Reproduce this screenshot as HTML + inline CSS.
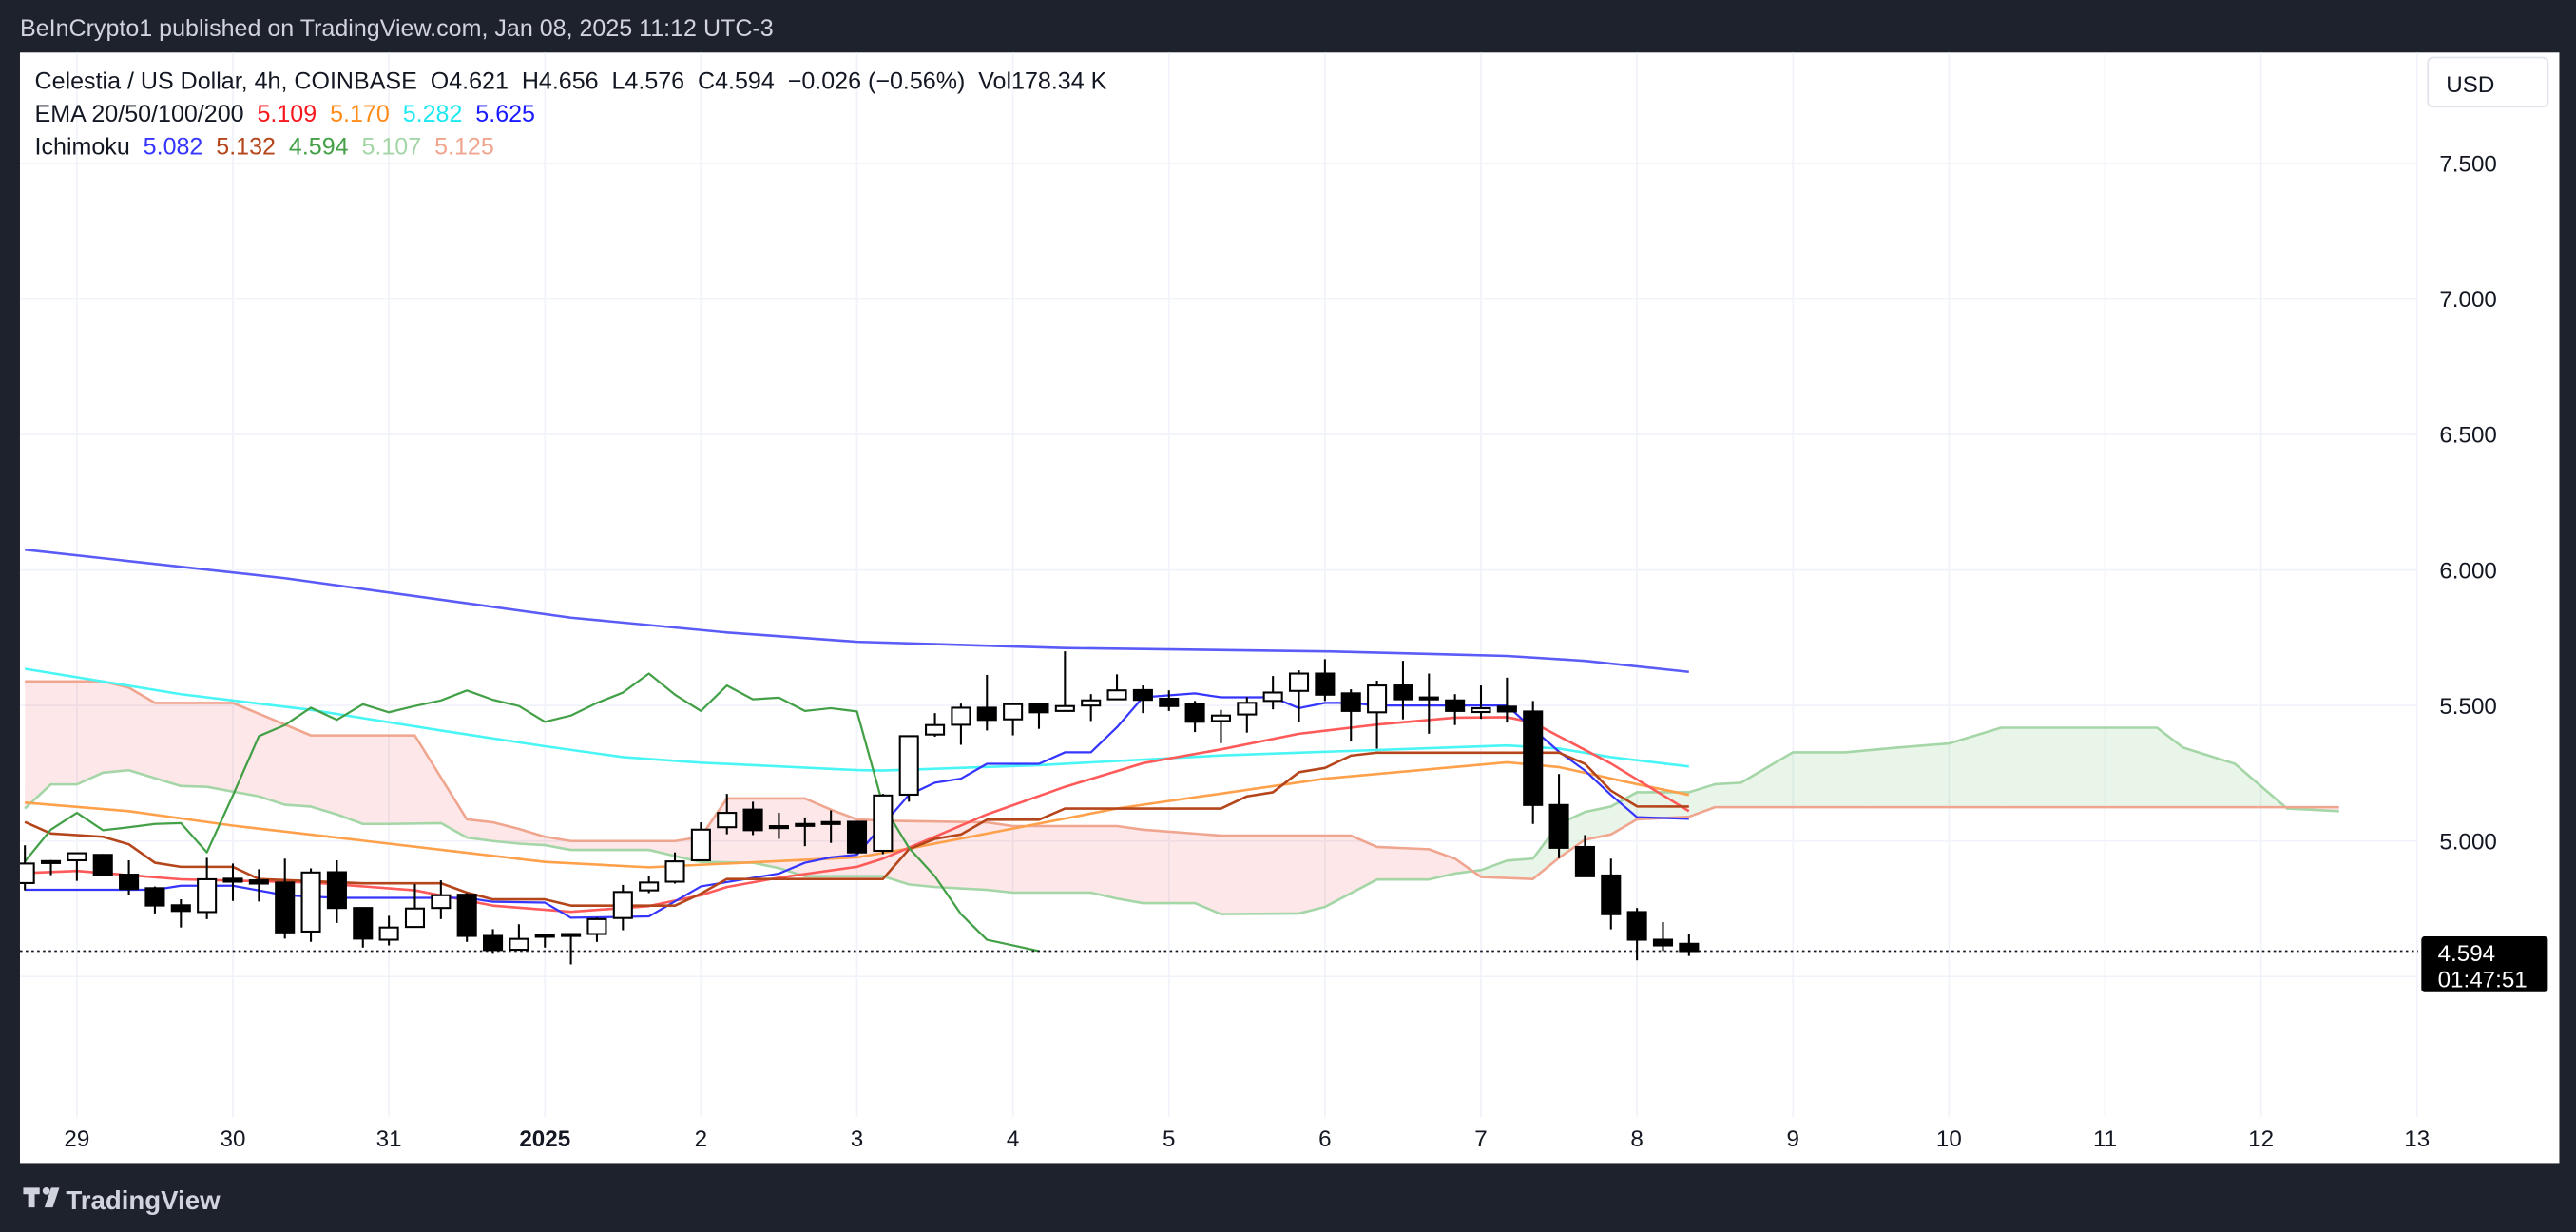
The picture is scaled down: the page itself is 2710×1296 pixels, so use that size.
<!DOCTYPE html>
<html><head><meta charset="utf-8"><style>
html,body{margin:0;padding:0;background:#1e222d;}
svg{display:block;font-family:"Liberation Sans",sans-serif;}
svg text{white-space:pre;}
</style></head><body>
<svg id="chart" width="2710" height="1296" viewBox="0 0 1568 750" xmlns="http://www.w3.org/2000/svg">
<rect x="0" y="0" width="1568" height="750" fill="#1e222d"/>
<text x="12" y="22" fill="#d1d4dc" font-size="14.5">BeInCrypto1 published on TradingView.com, Jan 08, 2025 11:12 UTC-3</text>
<rect x="12" y="32" width="1546" height="676" fill="#ffffff"/>
<defs><clipPath id="plotclip"><rect x="12" y="32" width="1460" height="648"/></clipPath></defs>
<g id="grid"></g>
<g id="plot" clip-path="url(#plotclip)"></g>
<g id="axes"></g>
<g font-size="14.5">
<text x="21" y="54" fill="#131722">Celestia / US Dollar, 4h, COINBASE  O4.621  H4.656  L4.576  C4.594  −0.026 (−0.56%)  Vol178.34 K</text>
<text x="21" y="74" fill="#131722">EMA 20/50/100/200 <tspan fill="#f7161b"> 5.109</tspan><tspan fill="#ff8c1a">  5.170</tspan><tspan fill="#1ee8f0">  5.282</tspan><tspan fill="#1a1aff">  5.625</tspan></text>
<text x="21" y="94" fill="#131722">Ichimoku <tspan fill="#3535ff"> 5.082</tspan><tspan fill="#b5451b">  5.132</tspan><tspan fill="#43a047">  4.594</tspan><tspan fill="#a5d6a7">  5.107</tspan><tspan fill="#f0a58f">  5.125</tspan></text>
</g>
<g>
<rect x="1478" y="35" width="73" height="30" rx="3" fill="#fff" stroke="#e0e3eb"/>
<text x="1489" y="56" font-size="14" fill="#131722">USD</text>
</g>
<g>
<rect x="1474" y="570" width="77" height="34" rx="2" fill="#000"/>
<text x="1484" y="585" font-size="14" fill="#fff">4.594</text>
<text x="1484" y="601" font-size="14" fill="#fff">01:47:51</text>
</g>
<g>
<path d="M14 723 h10 v4 h-3 v8 h-4 v-8 h-3z M27 735 l4 -12 h5 l-4 12z" fill="#d1d4dc"/>
<circle cx="28" cy="725" r="2.2" fill="#d1d4dc"/>
<text x="40" y="736" font-size="16" font-weight="bold" fill="#d1d4dc">TradingView</text>
</g>
</svg>
<script>
// ---- data ----
const opens  = [4.845,4.922,4.929,4.949,4.876,4.826,4.763,4.738,4.861,4.855,4.847,4.666,4.885,4.753,4.636,4.683,4.753,4.802,4.650,4.599,4.652,4.655,4.657,4.716,4.818,4.850,4.929,5.051,5.116,5.055,5.063,5.070,5.071,4.964,5.171,5.393,5.429,5.492,5.449,5.504,5.480,5.500,5.523,5.557,5.525,5.504,5.443,5.467,5.517,5.554,5.618,5.545,5.475,5.574,5.530,5.519,5.476,5.496,5.478,5.133,4.978,4.873,4.738,4.636,4.621];
const highs  = [4.984,4.930,4.958,4.952,4.929,4.832,4.785,4.938,4.917,4.896,4.935,4.899,4.929,4.753,4.724,4.841,4.855,4.808,4.675,4.693,4.657,4.660,4.718,4.838,4.870,4.958,5.069,5.174,5.145,5.104,5.087,5.113,5.075,5.174,5.390,5.472,5.507,5.613,5.510,5.504,5.700,5.542,5.615,5.574,5.556,5.517,5.484,5.531,5.609,5.630,5.671,5.560,5.592,5.665,5.618,5.542,5.574,5.603,5.517,5.247,5.022,4.935,4.753,4.701,4.656];
const lows   = [4.818,4.874,4.853,4.874,4.800,4.733,4.681,4.712,4.779,4.777,4.640,4.628,4.698,4.607,4.615,4.683,4.712,4.628,4.584,4.599,4.607,4.545,4.628,4.671,4.808,4.843,4.929,5.025,5.022,5.008,4.981,4.993,4.952,4.952,5.145,5.385,5.355,5.408,5.390,5.414,5.480,5.443,5.523,5.472,5.480,5.402,5.361,5.400,5.486,5.439,5.517,5.367,5.341,5.449,5.396,5.428,5.451,5.437,5.063,4.937,4.870,4.674,4.560,4.595,4.576];
const closes = [4.917,4.926,4.955,4.874,4.823,4.762,4.742,4.859,4.850,4.843,4.663,4.884,4.753,4.640,4.681,4.751,4.800,4.650,4.598,4.639,4.654,4.657,4.712,4.812,4.847,4.925,5.042,5.104,5.040,5.051,5.063,5.066,4.958,5.168,5.387,5.428,5.492,5.447,5.505,5.475,5.498,5.519,5.556,5.521,5.498,5.440,5.463,5.510,5.548,5.618,5.540,5.480,5.574,5.523,5.529,5.480,5.490,5.478,5.133,4.975,4.870,4.730,4.636,4.615,4.594];
const ema200Idx = [0,10,21,27,32,40,50,57,60,64];
const ema200Val = [6.075,5.97,5.824,5.77,5.735,5.712,5.70,5.683,5.665,5.624];
const ema100Idx = [0,6,11,16,20,23,26,32,33,39,46,57,59,61,64];
const ema100Val = [5.636,5.542,5.484,5.408,5.35,5.31,5.289,5.262,5.26,5.28,5.316,5.353,5.341,5.31,5.275];
const ema50Idx = [0,4,8,14,20,24,27,32,34,42,50,57,59,62,64];
const ema50Val = [5.142,5.11,5.057,4.99,4.923,4.903,4.917,4.94,4.972,5.12,5.23,5.29,5.273,5.21,5.17];
const ema20Idx = [0,2,6,11,15,18,21,24,26,27,29,32,33,35,37,40,43,46,49,52,55,57,58,61,64];
const ema20Val = [4.882,4.89,4.859,4.847,4.818,4.762,4.739,4.76,4.80,4.83,4.865,4.905,4.935,5.016,5.098,5.20,5.287,5.338,5.396,5.43,5.455,5.457,5.437,5.286,5.11];
const tenkanIdx = [0,5,6,8,10,12,17,18,20,21,24,26,29,30,31,32,34,35,36,37,39,40,41,42,43,45,46,48,49,50,51,52,57,58,59,60,61,62,64];
const tenkanVal = [4.82,4.82,4.835,4.835,4.80,4.79,4.79,4.776,4.773,4.717,4.722,4.833,4.88,4.92,4.94,4.95,5.17,5.215,5.23,5.285,5.285,5.327,5.327,5.42,5.53,5.545,5.53,5.53,5.49,5.51,5.51,5.50,5.50,5.414,5.33,5.26,5.17,5.088,5.082];
const kijunIdx = [0,1,3,4,5,6,8,9,13,16,17,18,20,21,25,26,27,33,34,35,36,37,39,40,46,47,48,49,50,51,52,59,60,61,62,64];
const kijunVal = [5.07,5.028,5.016,4.988,4.92,4.905,4.905,4.86,4.844,4.844,4.81,4.785,4.785,4.762,4.762,4.806,4.86,4.86,4.97,5.008,5.024,5.079,5.079,5.12,5.12,5.165,5.18,5.254,5.27,5.315,5.326,5.326,5.285,5.186,5.128,5.127];
const chikouShift = 25;
const spanAIdx = [0,1,2,3,4,6,7,9,10,11,12,13,14,16,17,18,19,20,21,24,25,26,28,29,30,33,34,35,37,38,41,42,43,45,46,49,50,52,54,55,56,57,58,59,60,61,62,64,65,66,68,70,72,74,76,82,83,85,87,89];
const spanAVal = [5.12,5.209,5.209,5.252,5.261,5.203,5.2,5.165,5.134,5.127,5.098,5.063,5.063,5.066,5.013,5.0,4.99,4.985,4.967,4.967,4.945,4.923,4.92,4.90,4.87,4.87,4.84,4.83,4.82,4.81,4.81,4.788,4.771,4.771,4.73,4.733,4.757,4.858,4.858,4.88,4.893,4.928,4.935,5.063,5.107,5.127,5.18,5.18,5.21,5.215,5.327,5.327,5.345,5.36,5.418,5.418,5.345,5.285,5.12,5.11];
const spanBIdx = [0,3,4,5,8,9,10,11,15,17,18,19,20,21,25,26,27,30,31,32,33,37,38,42,43,46,51,52,54,55,56,58,59,60,61,62,64,65,89];
const spanBVal = [5.589,5.589,5.566,5.51,5.51,5.47,5.43,5.39,5.39,5.08,5.069,5.045,5.016,5.0,5.0,5.016,5.157,5.157,5.116,5.08,5.075,5.069,5.055,5.055,5.042,5.02,5.02,4.978,4.97,4.935,4.867,4.86,4.938,5.005,5.024,5.08,5.09,5.125,5.125];
const priceTicks = [7.5,7.0,6.5,6.0,5.5,5.0,4.5];
const priceTickLabels = ["7.500","7.000","6.500","6.000","5.500","5.000",""];
const dayLabels = ["29","30","31","2025","2","3","4","5","6","7","8","9","10","11","12","13"];
const lastPrice = 4.594;

// ---- scales ----
const X0 = 15, STEP = 15.83;
function xS(i){ return X0 + i*STEP; }
function yS(p){ return 512 - (p-5)*165; }
const NS = "http://www.w3.org/2000/svg";
function mk(tag, attrs, parent){ const e=document.createElementNS(NS,tag); for(const k in attrs) e.setAttribute(k,attrs[k]); parent.appendChild(e); return e; }
const grid=document.getElementById('grid'), plot=document.getElementById('plot'), axes=document.getElementById('axes');

priceTicks.forEach((p,k)=>{
  const l=mk('line',{x1:12,x2:1472,y1:yS(p),y2:yS(p),stroke:'#f0f3fa','stroke-width':1},grid);
  
  
  if(priceTickLabels[k]){
    const t=mk('text',{x:1485,y:yS(p)+5,'font-size':14,fill:'#131722'},axes);
    t.textContent=priceTickLabels[k];
    
    
  }
});
dayLabels.forEach((d,k)=>{
  const x=xS(2+6*k);
  const l=mk('line',{x1:x,x2:x,y1:32,y2:680,stroke:'#f0f3fa','stroke-width':1},grid);
  
  
  const t=mk('text',{x:x,y:698,'font-size':14,fill:'#131722','text-anchor':'middle','font-weight':d==='2025'?'bold':'normal'},axes);
  t.textContent=d;
  
  
});

function interp(idx,val,i){
  if(i <= idx[0]) return val[0];
  for(let k=1;k < idx.length;k++){ if(i <= idx[k]){ const t=(i-idx[k-1])/(idx[k]-idx[k-1]); return val[k-1]+t*(val[k]-val[k-1]); } }
  return val[val.length-1];
}
function poly(idx,val,color,w,name){
  const pts=idx.map((i,k)=>xS(i).toFixed(1)+','+yS(val[k]).toFixed(1)).join(' ');
  const p=mk('polyline',{points:pts,fill:'none',stroke:color,'stroke-width':w,'stroke-linejoin':'round'},plot);
  
  
}

const lastI = Math.max(spanAIdx[spanAIdx.length-1], spanBIdx[spanBIdx.length-1]);
for(let i=0;i < lastI;i++){
  const a0=interp(spanAIdx,spanAVal,i), a1=interp(spanAIdx,spanAVal,i+1);
  const b0=interp(spanBIdx,spanBVal,i), b1=interp(spanBIdx,spanBVal,i+1);
  const col=(a0+a1)>=(b0+b1)?'rgba(76,175,80,0.13)':'rgba(242,54,69,0.12)';
  const q=mk('polygon',{points:`${xS(i)},${yS(a0)} ${xS(i+1)},${yS(a1)} ${xS(i+1)},${yS(b1)} ${xS(i)},${yS(b0)}`,fill:col,stroke:'none'},plot);
  
  
}
poly(spanAIdx,spanAVal,'#a5d6a7',1.5,'senkou-span-a');
poly(spanBIdx,spanBVal,'#f0a58f',1.5,'senkou-span-b');

poly(ema200Idx,ema200Val,'#5b5bf7',1.5,'ema-200-line');
poly(ema100Idx,ema100Val,'#4af5f5',1.5,'ema-100-line');
poly(ema50Idx,ema50Val,'#ffa04a',1.5,'ema-50-line');
poly(ema20Idx,ema20Val,'#ff5a5a',1.5,'ema-20-line');
poly(tenkanIdx,tenkanVal,'#3535ff',1.3,'tenkan-line');
poly(kijunIdx,kijunVal,'#b5451b',1.5,'kijun-line');
const chIdx=[], chVal=[];
for(let i=chikouShift;i < closes.length;i++){ chIdx.push(i-chikouShift); chVal.push(closes[i]); }
poly(chIdx,chVal,'#43a047',1.3,'chikou-line');

const lp=mk('line',{x1:12,x2:1472,y1:yS(lastPrice),y2:yS(lastPrice),stroke:'#131722','stroke-width':1,'stroke-dasharray':'1.5,2'},plot);



const BW=11;
closes.forEach((c,i)=>{
  const o=opens[i], x=xS(i), up=c>=o;
  const g=mk('g',{},plot);
  
  
  mk('line',{x1:x,x2:x,y1:yS(highs[i]),y2:yS(lows[i]),stroke:'#000','stroke-width':1.2},g);
  const top=yS(Math.max(o,c)), h=Math.max(1.2,Math.abs(yS(o)-yS(c)));
  mk('rect',{x:x-BW/2,y:top,width:BW,height:h,fill:up?'#fff':'#000',stroke:'#000','stroke-width':1.2},g);
});
</script>
</body></html>
